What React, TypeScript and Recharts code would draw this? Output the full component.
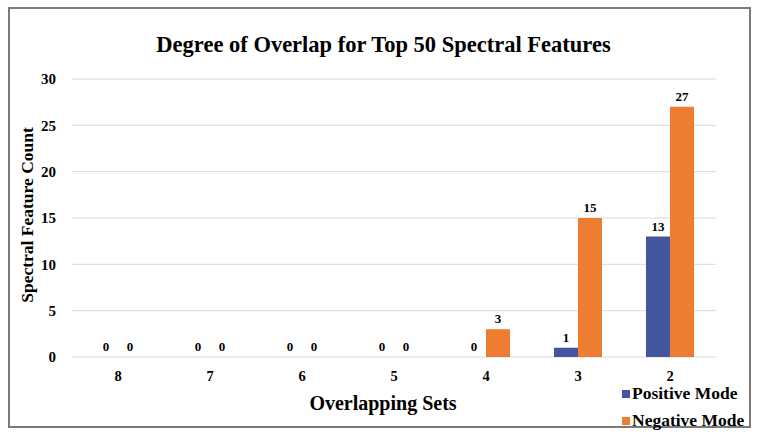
import React from "react";
import { ComposedChart, Bar, Line, XAxis, YAxis, CartesianGrid, LabelList } from "recharts";

const categories = ["8", "7", "6", "5", "4", "3", "2"];
const positiveMode = [0, 0, 0, 0, 0, 1, 13];
const negativeMode = [0, 0, 0, 0, 3, 15, 27];
const yTicks = [0, 5, 10, 15, 20, 25, 30];

const data = categories.map((c, i) => ({ cat: c, pos: positiveMode[i], neg: negativeMode[i] }));

const FONT = "'Liberation Serif', serif";
const BLUE = "#44559F";
const ORANGE = "#ED7D31";
const BAR = 24;

const makeLabel = (shift: number) => (props: any) => {
  const { x, y, value } = props;
  if (x == null || y == null) return null;
  return (
    <text
      x={x + shift}
      y={y - 6}
      textAnchor="middle"
      style={{ fontFamily: FONT, fontWeight: "bold", fontSize: 13, fill: "#000" }}
    >
      {value}
    </text>
  );
};

export default function App() {
  return (
    <div style={{ position: "absolute", left: 0, top: 0, width: 767, height: 439, background: "#fff", fontFamily: FONT }}>
      <div
        style={{
          position: "absolute",
          left: 8,
          top: 7,
          width: 743,
          height: 421,
          border: "2px solid #7a7a7a",
          boxSizing: "border-box",
        }}
      />
      <ComposedChart
        width={767}
        height={439}
        data={data}
        margin={{ top: 79, right: 51, bottom: 52, left: 0 }}
        barGap={0}
        style={{ position: "absolute", left: 0, top: 0 }}
      >
        <CartesianGrid vertical={false} stroke="#d9d9d9" strokeWidth={1} />
        <XAxis
          dataKey="cat"
          axisLine={false}
          tickLine={false}
          height={30}
          tickMargin={8}
          tick={{ fontFamily: FONT, fontWeight: "bold", fontSize: 14.5, fill: "#000" }}
        />
        <YAxis
          width={72}
          domain={[0, 30]}
          ticks={yTicks}
          axisLine={false}
          tickLine={false}
          tickMargin={10}
          tick={{ fontFamily: FONT, fontWeight: "bold", fontSize: 15, fill: "#000" }}
        />
        <Bar dataKey="pos" name="Positive Mode" fill={BLUE} barSize={BAR} isAnimationActive={false} />
        <Bar dataKey="neg" name="Negative Mode" fill={ORANGE} barSize={BAR} isAnimationActive={false} />
        <Line dataKey="pos" stroke="none" dot={false} activeDot={false} legendType="none" isAnimationActive={false}>
          <LabelList dataKey="pos" content={makeLabel(-BAR / 2)} />
        </Line>
        <Line dataKey="neg" stroke="none" dot={false} activeDot={false} legendType="none" isAnimationActive={false}>
          <LabelList dataKey="neg" content={makeLabel(BAR / 2)} />
        </Line>
      </ComposedChart>
      <div
        style={{
          position: "absolute",
          left: 0,
          width: 767,
          top: 30,
          textAlign: "center",
          fontSize: 22.5,
          fontWeight: "bold",
          lineHeight: "30px",
          color: "#000",
        }}
      >
        Degree of Overlap for Top 50 Spectral Features
      </div>
      <div
        style={{
          position: "absolute",
          left: 27 - 100,
          top: 215 - 12,
          width: 200,
          height: 24,
          lineHeight: "24px",
          textAlign: "center",
          transform: "rotate(-90deg)",
          fontSize: 17.5,
          fontWeight: "bold",
          color: "#000",
        }}
      >
        Spectral Feature Count
      </div>
      <div
        style={{
          position: "absolute",
          left: 383 - 120,
          width: 240,
          top: 390,
          lineHeight: "26px",
          textAlign: "center",
          fontSize: 20,
          fontWeight: "bold",
          color: "#000",
        }}
      >
        Overlapping Sets
      </div>
      <div style={{ position: "absolute", left: 622, top: 384, fontSize: 17.5, fontWeight: "bold", color: "#000", lineHeight: "19px" }}>
        {[{ name: "Positive Mode", color: BLUE }, { name: "Negative Mode", color: ORANGE }].map((it, i) => (
          <div key={it.name} style={{ display: "flex", alignItems: "center", height: 19, marginTop: i === 0 ? 0 : 8 }}>
            <span style={{ display: "inline-block", width: 8, height: 8, background: it.color, marginRight: 2 }} />
            <span>{it.name}</span>
          </div>
        ))}
      </div>
    </div>
  );
}
